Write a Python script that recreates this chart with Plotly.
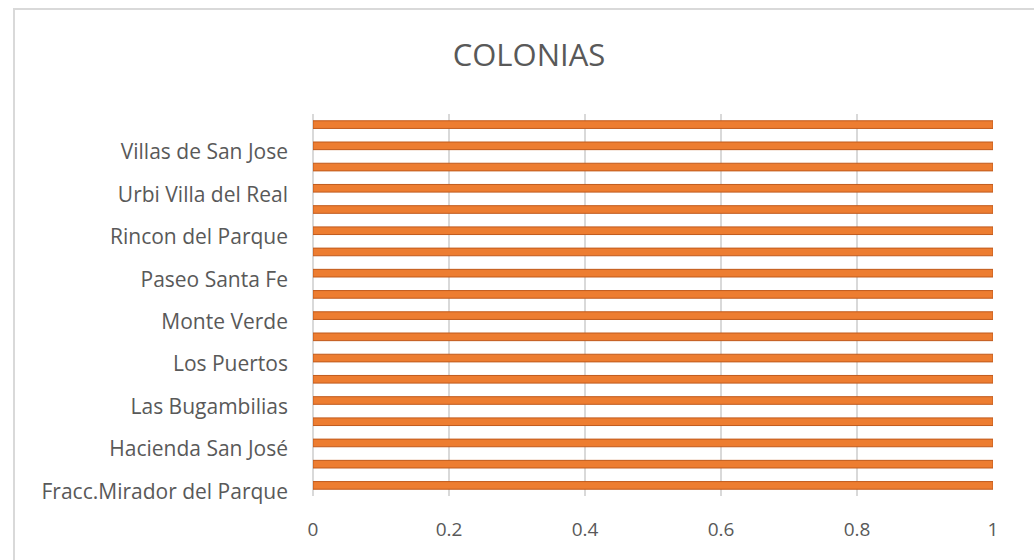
import plotly.graph_objects as go

# Data
shown_labels = [
    "Fracc.Mirador del Parque",
    "Hacienda San José",
    "Las Bugambilias",
    "Los Puertos",
    "Monte Verde",
    "Paseo Santa Fe",
    "Rincon del Parque",
    "Urbi Villa del Real",
    "Villas de San Jose",
]
values = [1] * 18
x_ticks = [0, 0.2, 0.4, 0.6, 0.8, 1]
x_tick_text = ["0", "0.2", "0.4", "0.6", "0.8", "1"]

positions = list(range(len(values)))
label_positions = positions[::2][: len(shown_labels)]

W, H = 1034, 560
L, R, T, B = 313, 41, 114, 64
pw = W - L - R
ph = H - T - B

fig = go.Figure()
fig.add_trace(go.Bar(
    x=values,
    y=positions,
    orientation="h",
    marker=dict(color="#ED7D31", line=dict(color="#C05A1C", width=1)),
    width=0.36,
    hoverinfo="x+y",
))

text_color = "#595959"
grid_color = "#D9D9D9"

fig.update_layout(
    width=W, height=H,
    margin=dict(l=L, r=R, t=T, b=B),
    paper_bgcolor="white",
    plot_bgcolor="white",
    showlegend=False,
    font=dict(family="Open Sans", color=text_color),
    title=dict(
        text="COLONIAS",
        font=dict(family="Open Sans", size=31, color=text_color),
        x=529 / W, xref="container", xanchor="center",
        y=1 - 55 / H, yref="container", yanchor="middle",
    ),
    xaxis=dict(
        range=[0, 1],
        tickvals=x_ticks,
        ticktext=x_tick_text,
        showgrid=True, gridcolor=grid_color, gridwidth=1.5,
        zeroline=True, zerolinecolor=grid_color, zerolinewidth=1.5,
        showline=False,
        ticks="",
        ticklabelstandoff=20,
        tickfont=dict(size=19, color=text_color),
        fixedrange=True,
    ),
    yaxis=dict(
        range=[-0.5, len(values) - 0.5],
        tickvals=label_positions,
        ticktext=shown_labels,
        showgrid=False,
        zeroline=False,
        showline=False,
        ticks="",
        ticklabelstandoff=24,
        ticklabelshift=6,
        tickfont=dict(size=21, color=text_color),
        fixedrange=True,
    ),
    shapes=[
        dict(
            type="rect", xref="paper", yref="paper",
            x0=(14 - L) / pw, x1=(W + 50 - L) / pw,
            y0=-0.5, y1=(H - B - 9) / ph,
            line=dict(color="#D9D9D9", width=2),
            fillcolor="rgba(0,0,0,0)",
            layer="below",
        )
    ],
)

fig.write_html(
    "out.html",
    config={"displayModeBar": False},
    post_script="document.body.style.margin='0';",
)
